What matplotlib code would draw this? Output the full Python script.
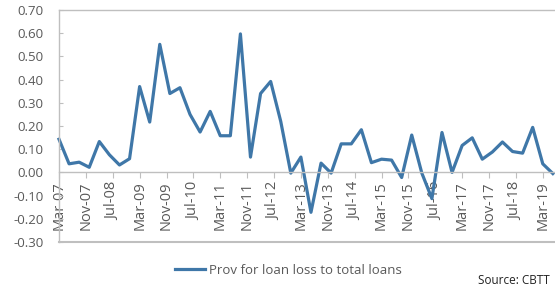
import matplotlib
matplotlib.use("Agg")
import matplotlib.pyplot as plt
import numpy as np

plt.rcParams['font.family'] = ['Open Sans', 'DejaVu Sans']

# quarterly, Mar-07 .. Jun-19
values = [0.143, 0.037, 0.044, 0.022, 0.133, 0.076, 0.032, 0.059,
          0.370, 0.217, 0.552, 0.340, 0.365, 0.250, 0.174, 0.263,
          0.158, 0.158, 0.597, 0.066, 0.340, 0.392, 0.220, -0.003,
          0.066, -0.172, 0.040, -0.003, 0.123, 0.123, 0.184, 0.042,
          0.057, 0.053, -0.022, 0.161, -0.003, -0.113, 0.172, 0.000,
          0.116, 0.149, 0.057, 0.088, 0.131, 0.090, 0.083, 0.194,
          0.037, -0.005]
tick_labels = ['Mar-07', 'Nov-07', 'Jul-08', 'Mar-09', 'Nov-09', 'Jul-10',
               'Mar-11', 'Nov-11', 'Jul-12', 'Mar-13', 'Nov-13', 'Jul-14',
               'Mar-15', 'Nov-15', 'Jul-16', 'Mar-17', 'Nov-17', 'Jul-18',
               'Mar-19']
series_name = 'Prov for loan loss to total loans'

gray = '#bfbfbf'
txt = '#595959'
blue = '#3f77a8'

fig = plt.figure(figsize=(5.55, 2.88), dpi=100)
ax = fig.add_axes([59/555, 46/288, 514/555, 232/288])

x = np.arange(len(values))
line, = ax.plot(x, values, color=blue, lw=2.3, solid_joinstyle='round', clip_on=False)

ax.set_xlim(0, 51)
ax.set_ylim(-0.3, 0.7)

ax.spines['bottom'].set_position(('data', 0))
ax.spines['right'].set_visible(False)
for s in ['bottom', 'left', 'top']:
    ax.spines[s].set_color(gray)
    ax.spines[s].set_linewidth(1)
ax.axhline(-0.3, color=gray, lw=1.5, clip_on=False)

# x ticks every 8 months (quarterly index -> 8/3)
ax.set_xticks(np.arange(len(tick_labels)) * 8 / 3)
ax.set_xticklabels(tick_labels)
ax.set_yticks(np.arange(-0.3, 0.71, 0.1))
ax.set_yticklabels(['%.2f' % v for v in np.arange(-0.3, 0.71, 0.1)])

ax.tick_params(axis='x', direction='out', length=4, color=gray, labelsize=10.5,
               labelcolor=txt, pad=2.5, labelrotation=90)
ax.tick_params(axis='y', direction='in', length=3, color=gray, labelsize=9.5,
               labelcolor=txt, pad=11)
for lab in ax.get_xticklabels():
    lab.set_va('top')
    lab.set_ha('center')

fig.legend([line], [series_name], loc='center left', bbox_to_anchor=(175/555, 18/288),
           frameon=False, borderpad=0, borderaxespad=0, handlelength=2.3,
           handletextpad=0.3, fontsize=9.5, labelcolor=txt)
fig.text(478/555, 7/288, 'Source: CBTT', fontsize=8.5, color='#222222', va='center')

fig.savefig('out.png', dpi=100)
